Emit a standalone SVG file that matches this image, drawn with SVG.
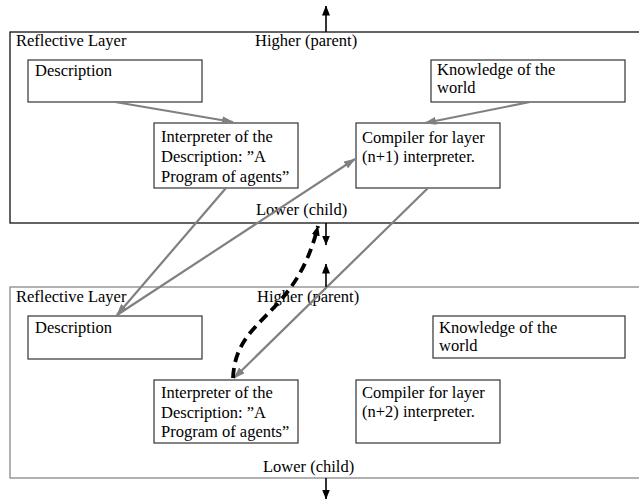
<svg xmlns="http://www.w3.org/2000/svg" width="639" height="502" viewBox="0 0 639 502">
<style>
text{font-family:'Liberation Serif','DejaVu Serif',serif;font-size:16.5px;fill:#000}
.layer1{fill:none;stroke:#111;stroke-width:1.3}
.layer2{fill:none;stroke:#888;stroke-width:1.3}
.box{fill:#fff;stroke:#333;stroke-width:1.2}
.g{stroke:#808080;stroke-width:2.2;fill:none;marker-end:url(#ga)}
.b{stroke:#000;stroke-width:1.6;fill:none;marker-end:url(#ba)}
.d{stroke:#000;stroke-width:3.8;fill:none;stroke-dasharray:10,6;marker-end:url(#ba)}
</style>
<defs>
<marker id="ga" viewBox="0 0 12 8" refX="11" refY="4" markerWidth="12" markerHeight="8" markerUnits="userSpaceOnUse" orient="auto"><path d="M0,0 L12,4 L0,8 Z" fill="#808080"/></marker>
<marker id="ba" viewBox="0 0 10 8" refX="9.5" refY="4" markerWidth="10" markerHeight="8" markerUnits="userSpaceOnUse" orient="auto"><path d="M0,0 L10,4 L0,8 Z" fill="#000"/></marker>
</defs>
<g font-family="Liberation Serif, DejaVu Serif, serif" font-size="16.5">
<g id="layer-top">
<rect class="layer1" x="10" y="32" width="640" height="191"/>
<text x="16" y="46">Reflective Layer</text>
<text x="255" y="46">Higher (parent)</text>
<text x="256" y="215">Lower (child)</text>
</g>
<g id="layer-bottom">
<rect class="layer2" x="10" y="287" width="640" height="191"/>
<text x="16" y="302">Reflective Layer</text>
<text x="257" y="302">Higher (parent)</text>
<text x="263" y="472">Lower (child)</text>
</g>
<g id="desc1"><rect class="box" x="28" y="60" width="174" height="42"/><text x="35" y="76">Description</text></g>
<g id="know1"><rect class="box" x="431" y="60" width="194" height="42"/><text x="437" y="75">Knowledge of the</text><text x="437" y="93">world</text></g>
<g id="interp1"><rect class="box" x="154" y="123" width="144" height="65"/><text x="161" y="142">Interpreter of the</text><text x="161" y="162">Description: ”A</text><text x="161" y="182">Program of agents”</text></g>
<g id="comp1"><rect class="box" x="356" y="123" width="144" height="65"/><text x="362" y="143">Compiler for layer</text><text x="362" y="162">(n+1) interpreter.</text></g>
<g id="desc2"><rect class="box" x="28" y="316" width="174" height="43"/><text x="35" y="333">Description</text></g>
<g id="know2"><rect class="box" x="433" y="316" width="192" height="42"/><text x="439" y="333">Knowledge of the</text><text x="439" y="351">world</text></g>
<g id="interp2"><rect class="box" x="154" y="380" width="144" height="63"/><text x="161" y="398">Interpreter of the</text><text x="161" y="418">Description: ”A</text><text x="161" y="437">Program of agents”</text></g>
<g id="comp2"><rect class="box" x="356" y="380" width="144" height="63"/><text x="362" y="398">Compiler for layer</text><text x="362" y="417">(n+2) interpreter.</text></g>
</g>
<g id="connectors">
<path class="g" d="M115,102 L233,122"/>
<path class="g" d="M530,102 L425,123"/>
<path class="g" d="M226,188 L117,315"/>
<path class="g" d="M117,315 L355,159"/>
<path class="g" d="M428,188 L234,378"/>
<path class="d" d="M233,378 C236,315 295,320 318,226"/>
<path class="b" d="M326,32 L326,6"/>
<path class="b" d="M326,223 L326,245"/>
<path class="b" d="M326,287 L326,264"/>
<path class="b" d="M326,478 L326,499"/>
</g>
</svg>
